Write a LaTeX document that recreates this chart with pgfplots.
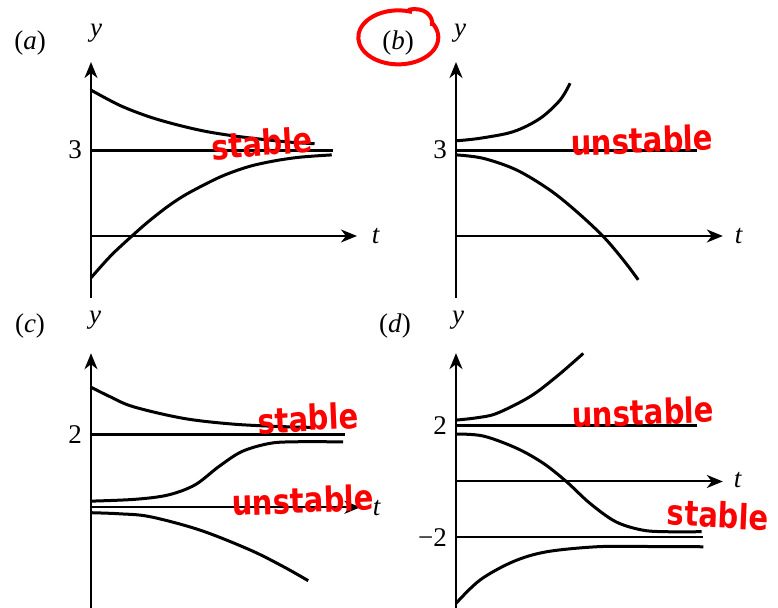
\documentclass[border=0pt]{standalone}
\usepackage{pgfplots}
\pgfplotsset{compat=1.18}
\usepackage{fontspec}
\setmainfont{Liberation Serif}
\newfontfamily\notefont{DejaVu Sans}
\usetikzlibrary{arrows.meta}

\pgfplotsset{
  phase/.style={
    anchor=origin, clip=false,
    axis lines=middle,
    axis line style={line width=1pt, -{Stealth[length=8pt,width=6.5pt,inset=2.5pt]}},
    xtick=\empty,
    major tick length=0pt,
    yticklabel style={font=\fontsize{13.5}{13.5}\selectfont, anchor=east, xshift=-1pt},
    x=14.33pt,
  },
  sol/.style={black, line width=1.5pt, smooth, tension=0.55},
  eq/.style={black, line width=1.5pt},
}
\tikzset{
  note/.style={red, font=\notefont\bfseries\fontsize{14.5}{14.5}\selectfont, inner sep=0pt, yscale=1.2},
  lab/.style={font=\fontsize{13.5}{13.5}\selectfont, inner sep=0pt},
}

\begin{document}
\begin{tikzpicture}
\useasboundingbox (0,0) rectangle (389pt,304pt);

% (a) stable equilibrium at y = 3
\begin{axis}[phase, at={(45.5pt,186pt)}, y=14.33pt,
  xmin=0, xmax=9.28, ymin=-2.16, ymax=6.07, ytick={3}, yticklabels={3}]
  \addplot[eq] coordinates {(0,3) (8.44,3)};
  \addplot[sol] coordinates {(0,5.09) (1,4.56) (2,4.17) (3,3.88) (4,3.65) (5,3.49) (6,3.37) (7,3.27) (7.8,3.22)};
  \addplot[sol] coordinates {(0,-1.46) (0.7,-0.68) (1.43,0) (2,0.5) (2.65,1.01) (3.2,1.38) (3.8,1.71) (4.6,2.10) (5.5,2.42) (6.4,2.62) (7.3,2.75) (8.4,2.83)};
\end{axis}

% (b) unstable equilibrium at y = 3
\begin{axis}[phase, at={(228pt,186pt)}, y=14.33pt,
  xmin=0, xmax=9.31, ymin=-2.16, ymax=6.07, ytick={3}, yticklabels={3}]
  \addplot[eq] coordinates {(0,3) (8.41,3)};
  \addplot[sol] coordinates {(0,3.32) (0.84,3.41) (2.0,3.64) (2.93,4.10) (3.63,4.74) (3.98,5.33)};
  \addplot[sol] coordinates {(0,2.83) (0.95,2.71) (2.12,2.30) (3.28,1.60) (4.21,0.85) (5.14,-0.02) (5.84,-0.84) (6.36,-1.53)};
\end{axis}

% (c) stable at y = 2, unstable at y = 0
\begin{axis}[phase, at={(45.5pt,50.35pt)}, y=18.08pt,
  xmin=0, xmax=9.4, ymin=-2.9, ymax=4.26, ytick={2}, yticklabels={2}]
  \addplot[eq] coordinates {(0,2) (8.86,2)};
  \addplot[sol] coordinates {(0,3.32) (0.66,3.06) (1.48,2.78) (3.22,2.46) (4.96,2.30) (6.71,2.23) (7.81,2.21)};
  \addplot[sol] coordinates {(0,0.17) (1.53,0.22) (2.69,0.34) (3.63,0.62) (4.45,1.12) (5.26,1.54) (6.19,1.76) (7.0,1.81) (8.8,1.81)};
  \addplot[sol] coordinates {(0,-0.15) (1,-0.18) (2.06,-0.26) (3.80,-0.63) (5.55,-1.18) (6.71,-1.64) (7.58,-2.03)};
\end{axis}

% (d) unstable at y = 2, stable at y = -2
\begin{axis}[phase, at={(228pt,63.25pt)}, y=13.95pt,
  xmin=0, xmax=9.31, ymin=-4.7, ymax=4.6, ytick={-2,2}, yticklabels={−2,2}]
  \addplot[eq, line width=1.2pt] coordinates {(0,2) (8.40,2)};
  \addplot[eq, line width=1.2pt] coordinates {(0,-2) (8.63,-2)};
  \addplot[sol] coordinates {(0,2.20) (0.7,2.28) (1.42,2.44) (2.58,3.04) (3.51,3.76) (4.44,4.59)};
  \addplot[sol] coordinates {(0,1.70) (0.95,1.63) (2.12,1.19) (3.05,0.65) (3.86,-0.01) (4.67,-0.78) (5.57,-1.44) (6.49,-1.74) (7.31,-1.80) (8.57,-1.80)};
  \addplot[sol] coordinates {(0,-4.37) (0.84,-3.53) (2.0,-2.87) (3.16,-2.52) (4.9,-2.34) (6.5,-2.33) (8.63,-2.34)};
\end{axis}

% panel letters and axis names
\node[lab] at (15pt,282.5pt) {(\textit{a})};
\node[lab] at (48pt,287.5pt) {\textit{y}};
\node[lab] at (188pt,186pt) {\textit{t}};
\node[lab] at (199pt,282.5pt) {(\textit{b})};
\node[lab] at (230pt,287.5pt) {\textit{y}};
\node[lab] at (369.5pt,186pt) {\textit{t}};
\node[lab] at (15pt,141pt) {(\textit{c})};
\node[lab] at (47.5pt,144pt) {\textit{y}};
\node[lab] at (188.5pt,50pt) {\textit{t}};
\node[lab] at (197.5pt,141pt) {(\textit{d})};
\node[lab] at (229pt,144pt) {\textit{y}};
\node[lab] at (369pt,64pt) {\textit{t}};

% handwritten notes
\draw[red, line width=2pt] (206pt,298pt) arc[start angle=70, end angle=395, x radius=20pt, y radius=13.5pt];
\draw[red, line width=2pt] (204pt,299pt) .. controls (212pt,301pt) and (217pt,296pt) .. (216pt,291pt);
\node[note, rotate=4] at (131pt,232.5pt) {stable};
\node[note, rotate=2] at (321pt,234pt) {unstable};
\node[note, rotate=3] at (154pt,95pt) {stable};
\node[note, rotate=2] at (151.5pt,54pt) {unstable};
\node[note, rotate=2] at (321.5pt,98pt) {unstable};
\node[note, rotate=-3] at (359pt,46.5pt) {stable};
\end{tikzpicture}
\end{document}
